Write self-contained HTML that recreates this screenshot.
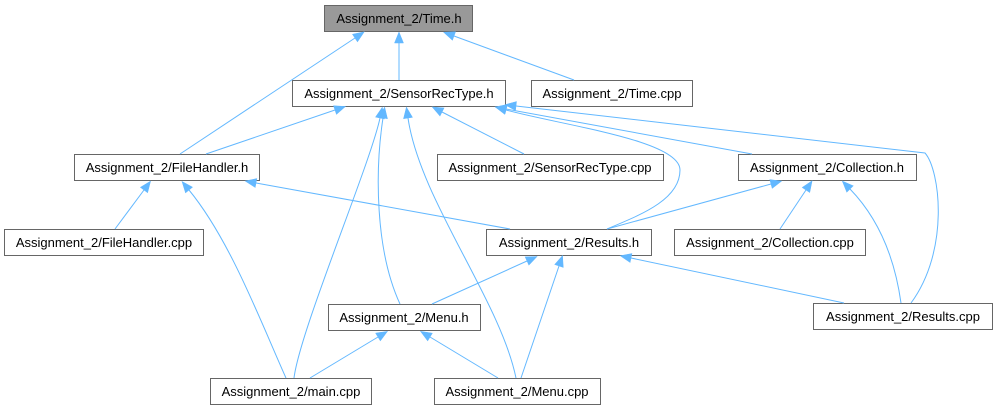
<!DOCTYPE html>
<html><head><meta charset="utf-8"><style>
html,body{margin:0;padding:0;background:#fff;}
text{font-family:"Liberation Sans",Arial,sans-serif;font-size:13px;fill:#000;}
</style></head><body>
<svg width="998" height="411" viewBox="0 0 998 411" xmlns="http://www.w3.org/2000/svg">
<defs>
<marker id="a" markerWidth="12" markerHeight="10" refX="0" refY="4.5" orient="auto-start-reverse" markerUnits="userSpaceOnUse" overflow="visible">
<path d="M0,0 L11,4.5 L0,9 Z" fill="#63b8ff" stroke="#63b8ff" stroke-width="0.5"/>
</marker>
</defs>
<g stroke="#666" stroke-width="1">
<rect x="324.5" y="5.5" width="148" height="26" fill="#999"/>
<rect x="292.5" y="80.5" width="213" height="26" fill="#fff"/>
<rect x="531.5" y="80.5" width="161" height="26" fill="#fff"/>
<rect x="74.5" y="154.5" width="185" height="26" fill="#fff"/>
<rect x="437.5" y="154.5" width="226" height="26" fill="#fff"/>
<rect x="738.5" y="154.5" width="178" height="26" fill="#fff"/>
<rect x="4.5" y="229.5" width="199" height="26" fill="#fff"/>
<rect x="486.5" y="229.5" width="165" height="26" fill="#fff"/>
<rect x="674.5" y="229.5" width="191" height="26" fill="#fff"/>
<rect x="328.5" y="304.5" width="152" height="26" fill="#fff"/>
<rect x="813.5" y="303.5" width="179" height="26" fill="#fff"/>
<rect x="210.5" y="378.5" width="161" height="26" fill="#fff"/>
<rect x="434.5" y="378.5" width="166" height="26" fill="#fff"/>
</g>
<g fill="none" stroke="#63b8ff" stroke-width="1" marker-start="url(#a)">
<path d="M355,38 L180,154"/>
<path d="M399,43 L399,80"/>
<path d="M454,36 L574,80"/>
<path d="M335,110 L206,154"/>
<path d="M380,118 C370,165 300,330 294,378"/>
<path d="M383,118 C375,170 375,250 400,304"/>
<path d="M408,118 C420,200 500,300 516,378"/>
<path d="M442,112 L524,154"/>
<path d="M506,110 C560,125 680,140 680,170 C680,200 640,215 607,229"/>
<path d="M506,109 L752,154"/>
<path d="M516,106 L925,153 C940,170 950,250 911,303"/>
<path d="M144,190 L115,229"/>
<path d="M189,190 C230,240 260,320 286,378"/>
<path d="M256,183 L510,229"/>
<path d="M771,184 L607,229"/>
<path d="M806,190 L780,229"/>
<path d="M850,189 C880,220 895,260 901,303"/>
<path d="M527,261 L432,304"/>
<path d="M559,266 L521,378"/>
<path d="M631,258 L844,303"/>
<path d="M378,337 L310,378"/>
<path d="M430,337 L498,378"/>
</g>
<g text-anchor="middle">
<text x="399" y="23">Assignment_2/Time.h</text>
<text x="399" y="98">Assignment_2/SensorRecType.h</text>
<text x="612" y="98">Assignment_2/Time.cpp</text>
<text x="167" y="172">Assignment_2/FileHandler.h</text>
<text x="550" y="172">Assignment_2/SensorRecType.cpp</text>
<text x="827" y="172">Assignment_2/Collection.h</text>
<text x="104" y="247">Assignment_2/FileHandler.cpp</text>
<text x="569" y="247">Assignment_2/Results.h</text>
<text x="770" y="247">Assignment_2/Collection.cpp</text>
<text x="404" y="322">Assignment_2/Menu.h</text>
<text x="903" y="321">Assignment_2/Results.cpp</text>
<text x="291" y="396">Assignment_2/main.cpp</text>
<text x="517" y="396">Assignment_2/Menu.cpp</text>
</g>
</svg>
</body></html>
